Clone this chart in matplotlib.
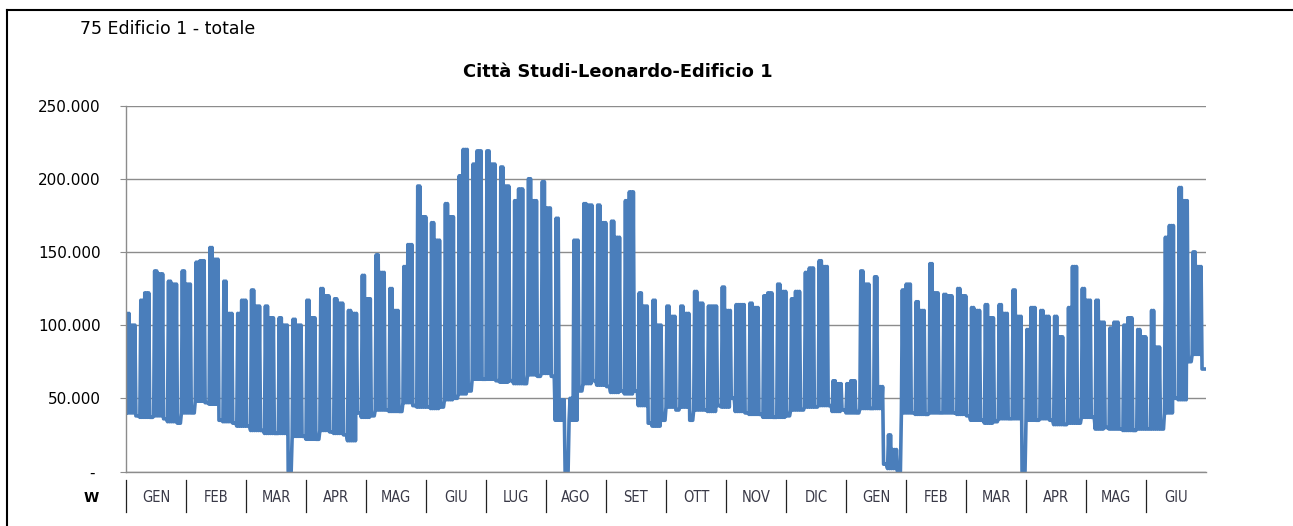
import numpy as np
import matplotlib
matplotlib.use("Agg")
import matplotlib.pyplot as plt
from matplotlib.lines import Line2D
import matplotlib.transforms as mtransforms

plt.rcParams["path.simplify"] = False

# etichette mesi (asse categorie)
mesi = ["GEN", "FEB", "MAR", "APR", "MAG", "GIU", "LUG", "AGO", "SET",
        "OTT", "NOV", "DIC", "GEN", "FEB", "MAR", "APR", "MAG", "GIU"]

# valori settimanali (kW -> x1000 = W)
# picco inizio settimana, picco fine settimana, base notturna, livello weekend
picco_a = [108, 117, 137, 130, 137, 143, 153, 130, 108, 124, 113, 105, 104,
           117, 125, 118, 110, 134, 148, 125, 140, 195, 170, 183, 202, 210,
           219, 208, 185, 200, 198, 173, 50, 183, 182, 171, 185, 122, 117,
           113, 113, 123, 113, 126, 114, 115, 120, 128, 118, 136, 144, 62,
           60, 137, 133, 25, 124, 116, 142, 121, 125, 112, 114, 114, 124,
           97, 110, 106, 112, 125, 117, 98, 100, 97, 110, 160, 194, 150]
picco_b = [100, 122, 135, 128, 128, 144, 145, 108, 117, 113, 105, 100, 100,
           105, 120, 115, 108, 118, 136, 110, 155, 174, 158, 174, 220, 219,
           210, 195, 193, 185, 180, 49, 158, 182, 170, 160, 191, 113, 100,
           106, 108, 115, 113, 110, 114, 112, 122, 123, 123, 139, 140, 60,
           62, 128, 58, 15, 128, 110, 122, 120, 120, 110, 105, 108, 106,
           112, 106, 92, 140, 117, 102, 102, 105, 92, 85, 168, 185, 140]
base = [40, 37, 38, 34, 40, 48, 46, 34, 31, 28, 26, 26, 24,
        22, 28, 26, 21, 37, 42, 41, 47, 44, 43, 49, 53, 63,
        63, 61, 60, 66, 67, 35, 35, 60, 59, 54, 53, 45, 31,
        44, 44, 42, 41, 44, 41, 39, 37, 37, 42, 44, 45, 41,
        40, 43, 43, 2, 40, 39, 40, 40, 39, 35, 33, 36, 36,
        35, 36, 32, 33, 37, 29, 29, 28, 29, 29, 40, 49, 80]
weekend = [38, 37, 36, 33, 40, 47, 35, 33, 31, 28, 26, 0, 24,
           22, 27, 25, 40, 38, 42, 41, 45, 44, 44, 50, 55, 63,
           62, 62, 60, 65, 65, 0, 55, 62, 58, 55, 55, 33, 35,
           42, 35, 42, 45, 50, 40, 39, 37, 38, 42, 44, 45, 42,
           40, 43, 5, 0, 40, 39, 40, 40, 38, 35, 34, 36, 0,
           35, 35, 32, 33, 37, 30, 29, 28, 29, 29, 50, 75, 70]

valori = []
for a, b, bs, we in zip(picco_a, picco_b, base, weekend):
    for top in [a, a, b, b, b]:
        valori += [bs, top]
    valori += [we, we, we, we]
valori = np.array(valori) * 1000.0
x = np.arange(len(valori)) / len(valori) * len(mesi)

W, H = 1293, 526
fig = plt.figure(figsize=(W / 100, H / 100), dpi=100)
ax = fig.add_axes([126 / W, (H - 471.5) / H, 1080 / W, 366 / H])

ax.plot(x, valori, color="#4a7ebb", lw=2.6, solid_joinstyle="round")

ax.set_xlim(0, len(mesi))
ax.set_ylim(0, 250000)
ax.set_yticks([0, 50000, 100000, 150000, 200000, 250000])
ax.set_yticklabels(["- ", "50.000", "100.000", "150.000", "200.000", "250.000"],
                   fontsize=11, family="DejaVu Sans")
ax.tick_params(axis="y", direction="out", length=4.3, color="#8c8c8c",
               pad=14)
ax.set_xticks([])
ax.grid(axis="y", color="#8c8c8c", lw=1.0)
ax.set_axisbelow(True)
for s in ["top", "right"]:
    ax.spines[s].set_visible(False)
for s in ["left", "bottom"]:
    ax.spines[s].set_color("#8c8c8c")
    ax.spines[s].set_linewidth(1.0)

# separatori e etichette mesi sotto l'asse
trans = mtransforms.blended_transform_factory(ax.transData, ax.transAxes)
for i, m in enumerate(mesi):
    ax.add_line(Line2D([i, i], [-0.023, -0.111], color="#222222", lw=0.9,
                       transform=trans, clip_on=False))
    t = ax.text(i + 0.5, -0.07, m, transform=trans, ha="center",
                va="center", fontsize=10.5, color="#3a3a48",
                family="DejaVu Sans")
    t.set_fontstretch("condensed")

fig.text(99 / W, 1 - 498 / H, "W", ha="right", va="center", fontsize=10,
         fontweight="bold", family="DejaVu Sans")

fig.text(618 / W, 1 - 72 / H, "Città Studi-Leonardo-Edificio 1",
         ha="center", va="center", fontsize=12.9, fontweight="bold",
         family="DejaVu Sans")
fig.text(80 / W, 1 - 29 / H, "75 Edificio 1 - totale", ha="left",
         va="center", fontsize=12.5, family="DejaVu Sans")

# cornice
fig.add_artist(Line2D([7 / W, 1], [1 - 10 / H, 1 - 10 / H], color="black",
                      lw=1.5, transform=fig.transFigure))
fig.add_artist(Line2D([7 / W, 7 / W], [0, 1 - 10 / H], color="black",
                      lw=1.5, transform=fig.transFigure))

fig.savefig("out.png", dpi=100)
